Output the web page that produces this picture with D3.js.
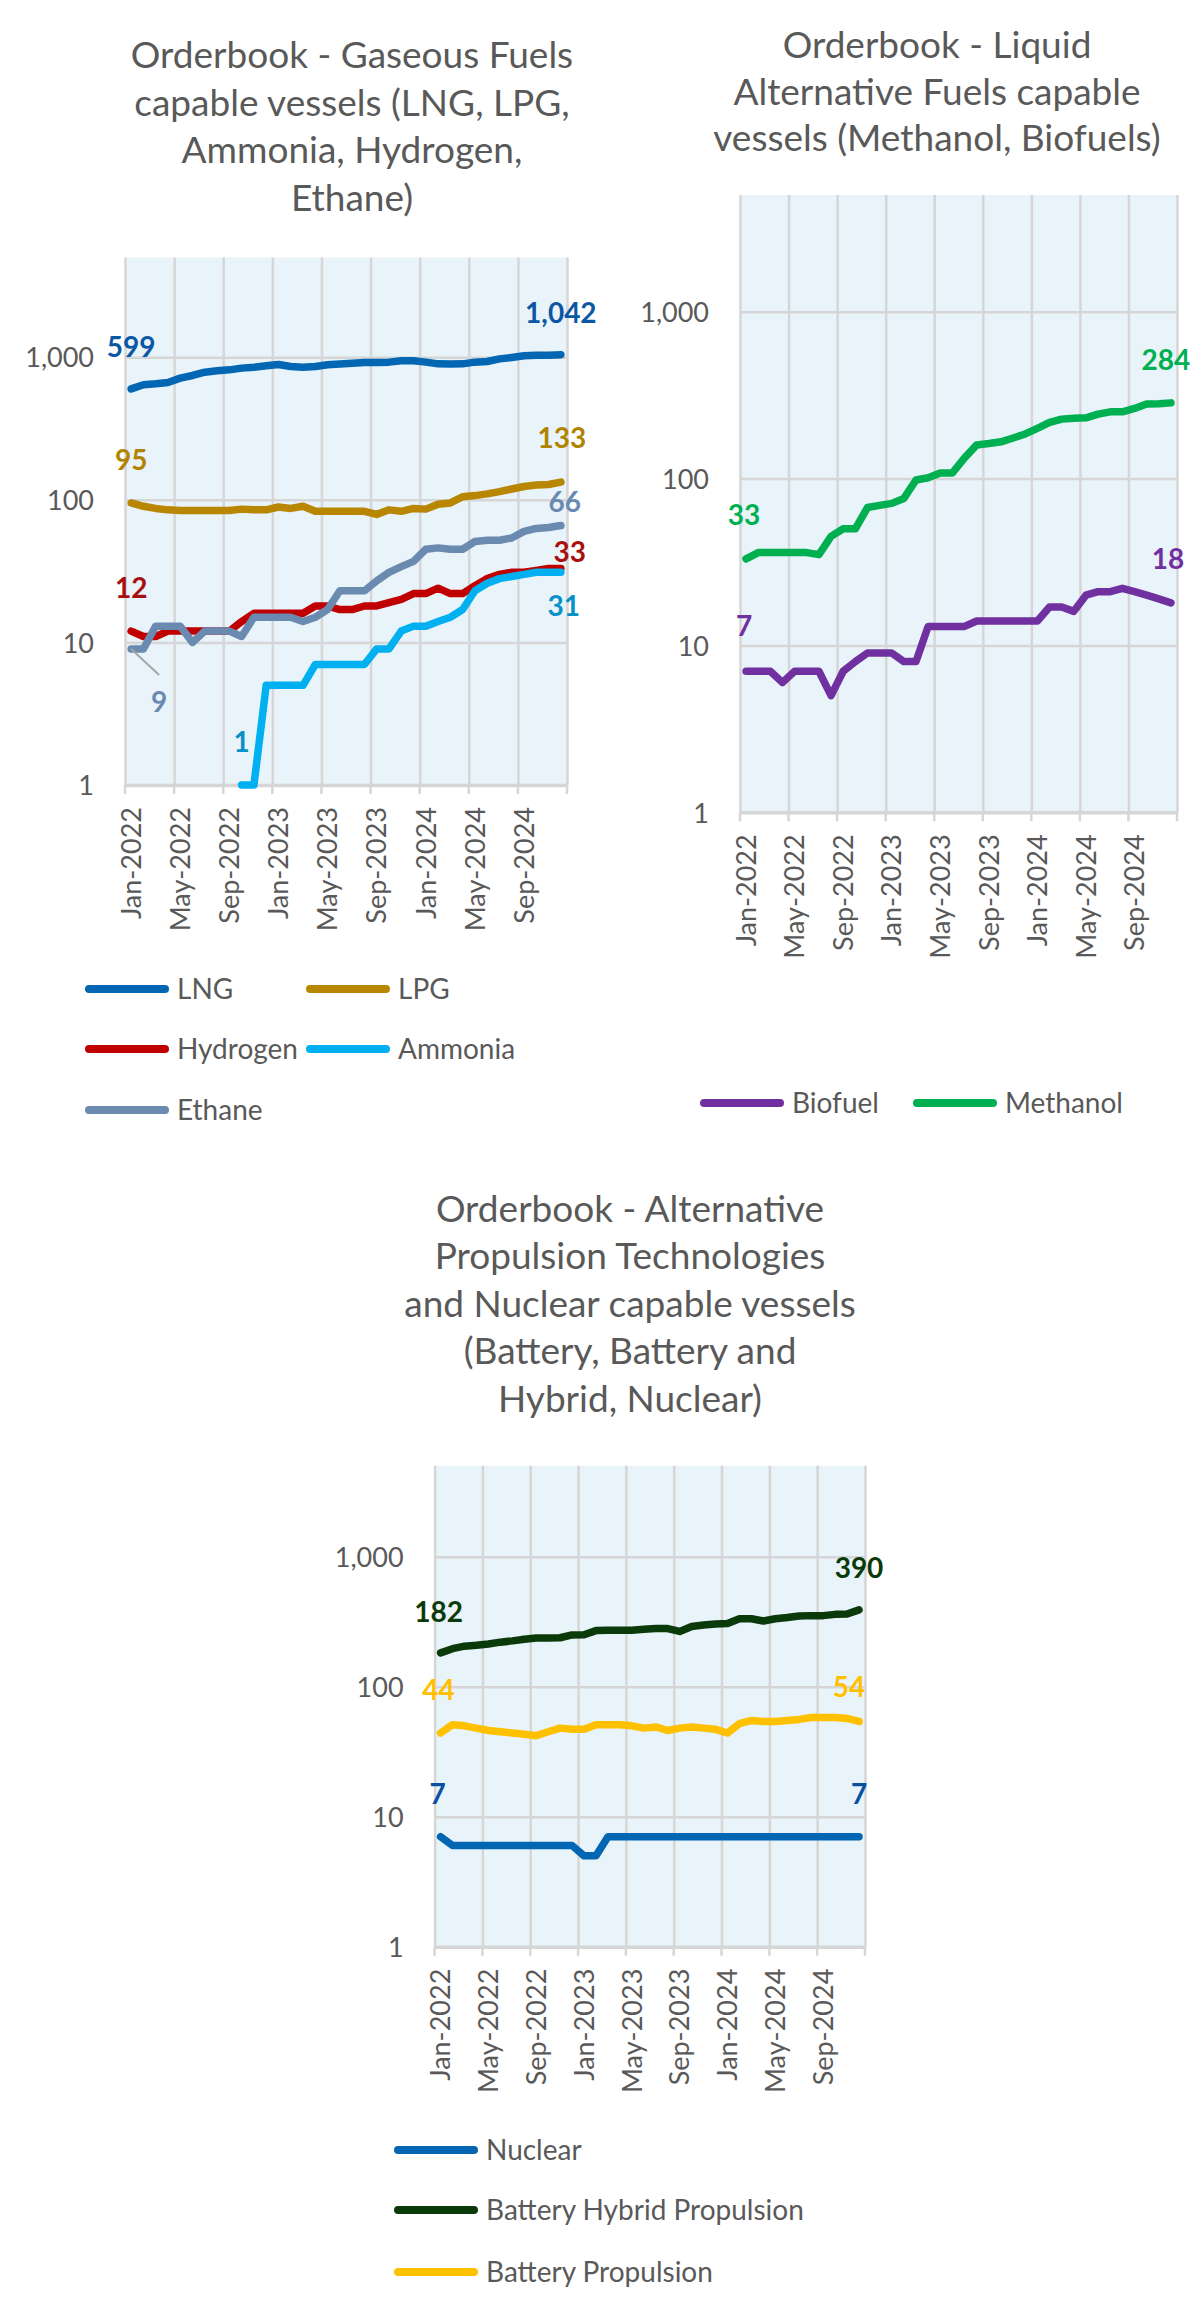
<!DOCTYPE html>
<html><head><meta charset="utf-8">
<script src="https://cdn.jsdelivr.net/npm/d3@7"></script>
<style>body{margin:0;background:#fff;} svg{display:block;font-family:Lato,'Open Sans',sans-serif;}</style>
</head><body><svg id="c" width="1200" height="2315"></svg>
<script>
// ---------- DATA ----------
const months = ["Jan-2022","Feb-2022","Mar-2022","Apr-2022","May-2022","Jun-2022","Jul-2022","Aug-2022","Sep-2022","Oct-2022","Nov-2022","Dec-2022",
  "Jan-2023","Feb-2023","Mar-2023","Apr-2023","May-2023","Jun-2023","Jul-2023","Aug-2023","Sep-2023","Oct-2023","Nov-2023","Dec-2023",
  "Jan-2024","Feb-2024","Mar-2024","Apr-2024","May-2024","Jun-2024","Jul-2024","Aug-2024","Sep-2024","Oct-2024","Nov-2024","Dec-2024"];
const tickLabels = ["Jan-2022","May-2022","Sep-2022","Jan-2023","May-2023","Sep-2023","Jan-2024","May-2024","Sep-2024"];
const yTicks = [1,10,100,1000];

const lng = [599,641,651,665,713,744,785,802,815,838,851,870,889,860,851,860,884,894,908,918,918,923,943,943,923,898,894,898,923,933,973,995,1022,1033,1033,1042];
const lpg = [95,90,87,85,84,84,84,84,84,86,85,85,89,87,90,83,83,83,83,83,79,85,83,87,86,93,95,105,107,110,114,119,124,127,128,133];
const hydrogen = [12,11,11,12,12,12,12,12,12,14,16,16,16,16,16,18,18,17,17,18,18,19,20,22,22,24,22,22,25,28,30,31,31,32,33,33];
const ammonia = [null,null,null,null,null,null,null,null,null,1,1,5,5,5,5,7,7,7,7,7,9,9,12,13,13,14,15,17,23,26,28,29,30,31,31,31];
const ethane = [9,9,13,13,13,10,12,12,12,11,15,15,15,15,14,15,17,23,23,23,27,31,34,37,45,46,45,45,51,52,52,54,60,63,64,66];

const biofuel = [7,7,7,6,7,7,7,5,7,8,9,9,9,8,8,13,13,13,13,14,14,14,14,14,14,17,17,16,20,21,21,22,21,20,19,18];
const methanol = [33,36,36,36,36,36,35,45,50,50,67,69,71,76,98,101,108,108,133,159,162,166,175,185,200,217,227,230,231,243,251,251,263,280,281,284];

const nuclear = [7,6,6,6,6,6,6,6,6,6,6,6,5,5,7,7,7,7,7,7,7,7,7,7,7,7,7,7,7,7,7,7,7,7,7,7];
const batteryHybrid = [182,196,205,208,213,220,225,232,237,237,238,250,251,270,272,272,272,276,280,280,266,290,298,303,306,333,333,320,333,340,350,352,352,360,362,390];
const batteryProp = [44,51,50,48,46,45,44,43,42,45,48,47,47,51,51,51,50,48,49,46,48,49,48,47,44,52,55,54,54,55,56,58,58,58,57,54];

// ---------- DRAW ----------
const svg = d3.select("#c");
const TXT = "#595959";
const fmt = d3.format(",");

function drawChart(cfg){
  const g = svg.append("g");
  g.append("text").attr("x", cfg.titleX).attr("y", cfg.titleY)
    .attr("text-anchor","middle").attr("fill",TXT).attr("font-size",37)
    .selectAll("tspan").data(cfg.title).join("tspan")
    .attr("x", cfg.titleX).attr("dy",(d,i)=> i===0?0:cfg.titleDy).text(d=>d);

  const x = d3.scaleLinear().domain([0, months.length]).range([cfg.left, cfg.right]);
  const y = d3.scaleLog().domain([1,5000]).range([cfg.bottom, cfg.top]);
  const px = i => x(i + 0.5);

  g.append("rect").attr("x",cfg.left).attr("y",cfg.top)
    .attr("width",cfg.right-cfg.left).attr("height",cfg.bottom-cfg.top).attr("fill","#E8F3FA");

  const xv = d3.range(0, months.length+1, 4);
  const gx = g.append("g").attr("transform",`translate(0,${cfg.bottom})`)
    .call(d3.axisBottom(x).tickValues(xv).tickSizeInner(-(cfg.bottom-cfg.top)).tickSizeOuter(0).tickFormat(""));
  gx.select(".domain").remove();
  gx.selectAll("line").attr("stroke","#D6D6D6").attr("stroke-width",2.5);
  g.selectAll(".tm").data(xv).join("line").attr("class","tm")
    .attr("x1",d=>x(d)).attr("x2",d=>x(d)).attr("y1",cfg.bottom).attr("y2",cfg.bottom+9)
    .attr("stroke","#D6D6D6").attr("stroke-width",2.5);

  const gy = g.append("g").attr("transform",`translate(${cfg.left},0)`)
    .call(d3.axisLeft(y).tickValues(yTicks).tickSize(-(cfg.right-cfg.left)).tickPadding(31).tickFormat(fmt));
  gy.select(".domain").remove();
  gy.selectAll("line").attr("stroke","#D6D6D6").attr("stroke-width",d=>d===1?3.5:2.5);
  gy.selectAll("text").attr("fill",TXT).attr("font-size",27).attr("font-family","Lato,'Open Sans',sans-serif").attr("dy","0.36em");

  g.selectAll(".xl").data(tickLabels).join("text").attr("class","xl")
    .attr("transform",(d)=>`translate(${px(months.indexOf(d))},${cfg.bottom+22}) rotate(-90)`)
    .attr("text-anchor","end").attr("dy","0.36em").attr("fill",TXT).attr("font-size",27).text(d=>d);

  const line = d3.line().defined(d=>d!=null).x((d,i)=>px(i)).y(d=>y(d));
  cfg.series.forEach(s=>{
    g.append("path").datum(s.values).attr("d",line).attr("fill","none")
      .attr("stroke",s.color).attr("stroke-width",7.5)
      .attr("stroke-linejoin","round").attr("stroke-linecap","round");
  });

  cfg.labels.forEach(l=>{
    const s = cfg.series[l.s];
    const v = s.values[l.i];
    const X = px(l.i), Y = y(v);
    if (l.leader){
      g.append("line").attr("x1",X).attr("y1",Y).attr("x2",X+l.leader[0]).attr("y2",Y+l.leader[1])
        .attr("stroke","#A6A6A6").attr("stroke-width",2);
    }
    g.append("text").attr("x",X+l.dx).attr("y",Y+l.dy).attr("text-anchor","middle").attr("dy","0.36em")
      .attr("font-size",28).attr("font-weight","bold").attr("fill",s.label||s.color).text(fmt(v));
  });

  cfg.legend.forEach(it=>{
    const s = cfg.series[it.s];
    g.append("line").attr("x1",it.x).attr("x2",it.x+76).attr("y1",it.y).attr("y2",it.y)
      .attr("stroke",s.color).attr("stroke-width",8).attr("stroke-linecap","round");
    g.append("text").attr("x",it.x+88).attr("y",it.y).attr("dy","0.36em")
      .attr("fill",TXT).attr("font-size",28).text(s.name);
  });
}

drawChart({
  title:["Orderbook - Gaseous Fuels","capable vessels (LNG, LPG,","Ammonia, Hydrogen,","Ethane)"],
  titleX:352, titleY:68, titleDy:47.7,
  left:125, right:567, top:257.5, bottom:785,
  series:[
    {name:"LNG", values:lng, color:"#0366B3", label:"#0B57A3"},
    {name:"LPG", values:lpg, color:"#B88600", label:"#B08400"},
    {name:"Hydrogen", values:hydrogen, color:"#C00000", label:"#A80F0F"},
    {name:"Ammonia", values:ammonia, color:"#00B0F0", label:"#0890C8"},
    {name:"Ethane", values:ethane, color:"#6A8AB0", label:"#6A8AB0"}
  ],
  labels:[
    {s:0,i:0,dx:0,dy:-42},{s:0,i:35,dx:0,dy:-42},
    {s:1,i:0,dx:0,dy:-43},{s:1,i:35,dx:1,dy:-44},
    {s:4,i:35,dx:4,dy:-24},{s:2,i:35,dx:9,dy:-17},
    {s:2,i:0,dx:0,dy:-43},{s:3,i:35,dx:3,dy:34},
    {s:3,i:9,dx:0,dy:-43},{s:4,i:0,dx:28,dy:53,leader:[28,26]}
  ],
  legend:[{s:0,x:89,y:989},{s:1,x:310,y:989},{s:2,x:89,y:1049},{s:3,x:310,y:1049},{s:4,x:89,y:1110}]
});

drawChart({
  title:["Orderbook - Liquid","Alternative Fuels capable","vessels (Methanol, Biofuels)"],
  titleX:937, titleY:58, titleDy:46.7,
  left:740, right:1177, top:195, bottom:812.3,
  series:[
    {name:"Biofuel", values:biofuel, color:"#7030A0"},
    {name:"Methanol", values:methanol, color:"#00B050"}
  ],
  labels:[
    {s:1,i:0,dx:-2,dy:-44},{s:0,i:0,dx:-2,dy:-45},
    {s:0,i:35,dx:-3,dy:-44},{s:1,i:35,dx:-5,dy:-43}
  ],
  legend:[{s:0,x:704,y:1103},{s:1,x:917,y:1103}]
});

drawChart({
  title:["Orderbook - Alternative","Propulsion Technologies","and Nuclear capable vessels","(Battery, Battery and","Hybrid, Nuclear)"],
  titleX:630, titleY:1221.7, titleDy:47.5,
  left:434.6, right:865, top:1465.8, bottom:1946.7,
  series:[
    {name:"Nuclear", values:nuclear, color:"#0366B3", label:"#0B4FA0"},
    {name:"Battery Hybrid Propulsion", values:batteryHybrid, color:"#0A3A0A", label:"#0A3A0A"},
    {name:"Battery Propulsion", values:batteryProp, color:"#FFC000"}
  ],
  labels:[
    {s:1,i:0,dx:-2,dy:-41},{s:1,i:35,dx:0,dy:-42},
    {s:2,i:0,dx:-2,dy:-43},{s:2,i:35,dx:-10,dy:-35},
    {s:0,i:0,dx:-3,dy:-43},{s:0,i:35,dx:0,dy:-43}
  ],
  legend:[{s:0,x:398,y:2150},{s:1,x:398,y:2210},{s:2,x:398,y:2272}]
});
</script></body></html>
